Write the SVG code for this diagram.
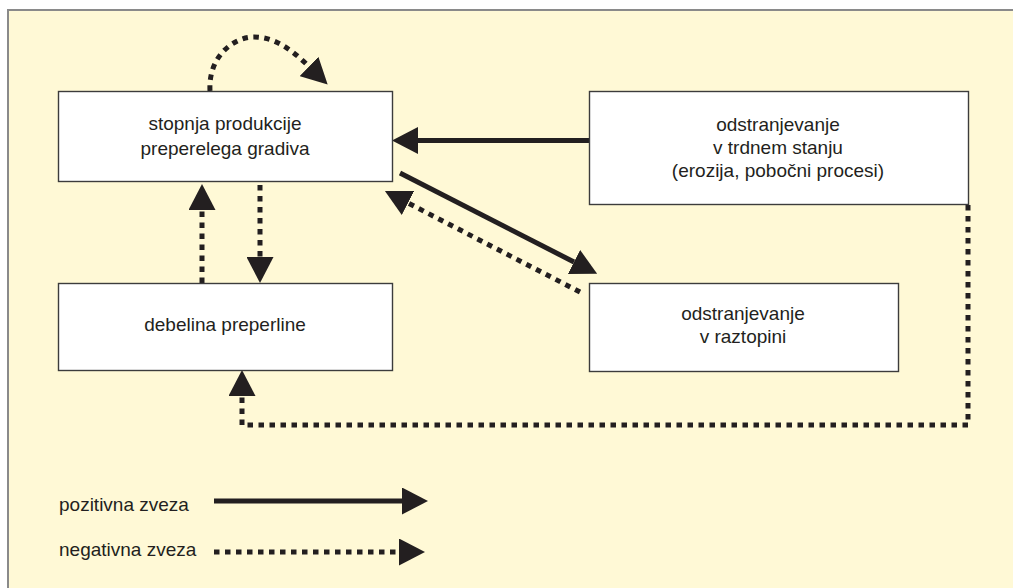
<svg xmlns="http://www.w3.org/2000/svg" width="1013" height="588" viewBox="0 0 1013 588">
<style>
.box{fill:#ffffff;stroke:#3c3c3c;stroke-width:1.4}
.t{font-family:"Liberation Sans",Arial,sans-serif;font-size:19px;fill:#231f20}
.c{text-anchor:middle}
.pos{fill:none;stroke:#231f20;stroke-width:5}
.neg{fill:none;stroke:#231f20;stroke-width:5;stroke-dasharray:5.5 5.5}
</style>
<defs>
<marker id="ah" viewBox="0 0 26 27" refX="0" refY="13.5" markerWidth="26" markerHeight="27" markerUnits="userSpaceOnUse" orient="auto">
<path d="M0,0 L26,13.5 L0,27 Z" fill="#231f20"/>
</marker>
</defs>
<rect x="0" y="0" width="1013" height="588" fill="#ffffff"/>
<rect x="8" y="10" width="1010" height="590" fill="#fff9d6"/>
<path d="M8,600 L8,10 L1013,10" fill="none" stroke="#8a8a8a" stroke-width="2"/>
<g id="connectors">
<path class="pos" d="M589,140.5 L418,140.5" marker-end="url(#ah)"/>
<path class="pos" d="M400,173 L574,262" marker-end="url(#ah)"/>
<path class="neg" d="M580,292 L408,203" marker-end="url(#ah)"/>
<path class="neg" d="M260,185 L260,257" marker-end="url(#ah)"/>
<path class="neg" d="M202,283 L202,210" marker-end="url(#ah)"/>
<path class="neg" d="M210,91 C208,55 235,37 254,37 C275,37 292,50 309,66.5" marker-end="url(#ah)"/>
<path class="neg" d="M968,205 L968,425 L242,425 L242,396" marker-end="url(#ah)"/>
</g>
<g id="nodeA">
<rect class="box" x="58.5" y="91.5" width="334" height="90"/>
<text class="t c" x="225" y="130">stopnja produkcije</text>
<text class="t c" x="225" y="155">preperelega gradiva</text>
</g>
<g id="nodeB">
<rect class="box" x="58.5" y="283.5" width="334" height="87"/>
<text class="t c" x="225" y="331">debelina preperline</text>
</g>
<g id="nodeC">
<rect class="box" x="589.5" y="91.5" width="379" height="113"/>
<text class="t c" x="778" y="131">odstranjevanje</text>
<text class="t c" x="778" y="154">v trdnem stanju</text>
<text class="t c" x="778" y="177">(erozija, pobočni procesi)</text>
</g>
<g id="nodeD">
<rect class="box" x="589.5" y="283.5" width="309" height="88"/>
<text class="t c" x="743" y="320">odstranjevanje</text>
<text class="t c" x="743" y="343">v raztopini</text>
</g>
<g id="legend">
<text class="t" x="59" y="511">pozitivna zveza</text>
<path class="pos" d="M214,501 L402,501" marker-end="url(#ah)"/>
<text class="t" x="59" y="556">negativna zveza</text>
<path class="neg" d="M214,552 L399,552" marker-end="url(#ah)"/>
</g>
</svg>
